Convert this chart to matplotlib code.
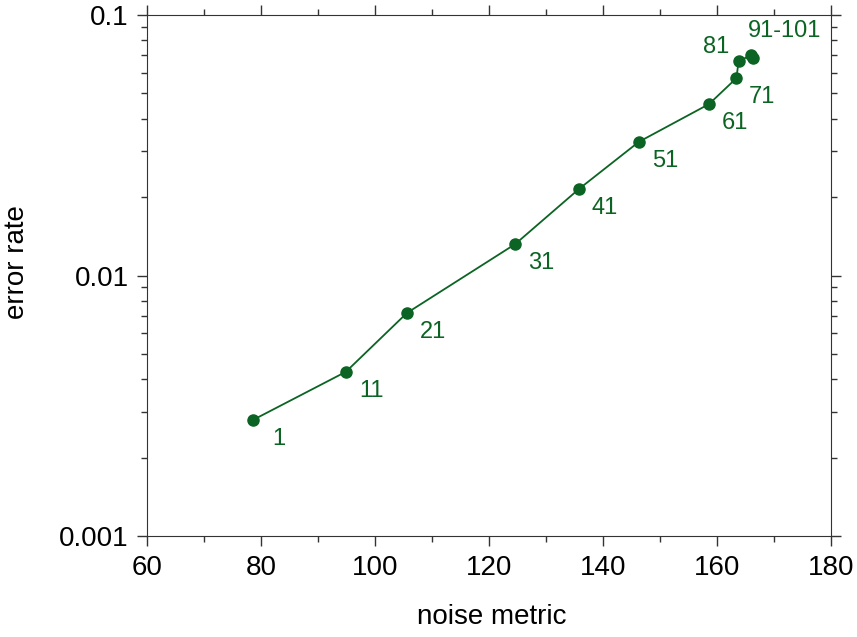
import numpy as np
import matplotlib.pyplot as plt
from matplotlib.ticker import FixedLocator, NullFormatter, LogLocator

plt.rcParams['font.family'] = ['Liberation Sans', 'DejaVu Sans']

# data
labels = ["1", "11", "21", "31", "41", "51", "61", "71", "81", "91", "101"]
noise = [78.6, 94.9, 105.6, 124.6, 135.8, 146.3, 158.6, 163.4, 163.8, 166.0, 166.3]
err = [0.00279, 0.00427, 0.00718, 0.0132, 0.0215, 0.0326, 0.0455, 0.0572, 0.0666, 0.0700, 0.0685]

green = "#0b6423"

fig = plt.figure(figsize=(8.57, 6.37), dpi=100)
ax = fig.add_axes([147 / 857, 1 - 536 / 637, (831 - 147) / 857, (536 - 15) / 637])

ax.plot(noise, err, "-o", color=green, lw=1.3, ms=8)
ax.set_yscale("log")
ax.set_xlim(60, 180)
ax.set_ylim(0.001, 0.1)

# point labels: most sit below-right, "81" above-left, last two share one label
for i, lab in enumerate(labels[:8]):
    ax.annotate(lab, (noise[i], err[i]), xytext=(26, -19), textcoords="offset pixels",
                ha="center", va="center", color=green, fontsize=17)
ax.annotate("81", (noise[8], err[8]), xytext=(-23, 14), textcoords="offset pixels",
            ha="center", va="center", color=green, fontsize=17)
ax.annotate("91-101", (noise[9], err[9]), xytext=(33, 24), textcoords="offset pixels",
            ha="center", va="center", color=green, fontsize=17)

ax.set_xticks([60, 80, 100, 120, 140, 160, 180])
ax.xaxis.set_minor_locator(FixedLocator(np.arange(70, 180, 20)))
ax.set_yticks([0.001, 0.01, 0.1])
ax.set_yticklabels(["0.001", "0.01", "0.1"])
ax.yaxis.set_minor_locator(LogLocator(base=10, subs=np.arange(2, 10)))
ax.yaxis.set_minor_formatter(NullFormatter())

ax.tick_params(which="both", direction="out", top=True, right=True, labelsize=20, color="#333333")
ax.tick_params(which="major", length=7, width=1)
ax.tick_params(which="minor", length=4, width=1)
ax.tick_params(axis="x", pad=7)
ax.tick_params(axis="y", pad=6)
for s in ax.spines.values():
    s.set_color("#333333")

ax.set_xlabel("noise metric", fontsize=20, va="center")
ax.set_ylabel("error rate", fontsize=20, va="center")
ax.xaxis.set_label_coords(0.504, -0.155)
ax.yaxis.set_label_coords(-0.19, 0.526)

fig.savefig("out.png", dpi=100)
